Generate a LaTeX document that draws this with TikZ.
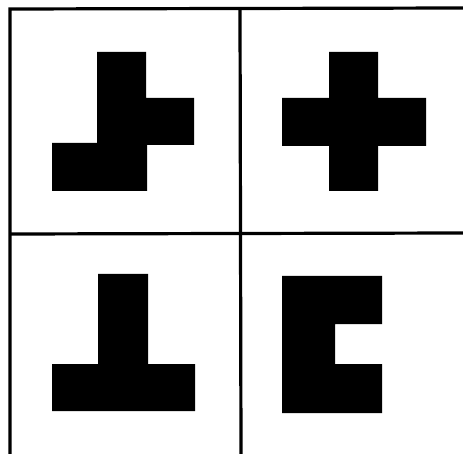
\documentclass[tikz,border=0pt]{standalone}
\begin{document}
\begin{tikzpicture}[x=1pt,y=-1pt,
  gridline/.style={line width=3.2pt,black},
  piece/.style={fill=black,draw=none}]
\useasboundingbox (0,0) rectangle (463,454);
% grid lines
\coordinate (tl) at (10,9);
\coordinate (tr) at (463,8);
\coordinate (bl) at (10,454);
\coordinate (mt) at (240,9);
\coordinate (mb) at (241,454);
\coordinate (ml) at (10,234);
\coordinate (mr) at (463,233);
\draw[gridline] (tr) -- (tl) -- (bl);
\draw[gridline] (mt) -- (mb);
\draw[gridline] (ml) -- (mr);
% piece 1
\fill[piece] (97,52) -- (146,52) -- (146,98) -- (194,98) -- (194,145) -- (147,145) -- (147,191) -- (52,191) -- (52,143) -- (97,143) -- cycle;
% piece 2: cross
\fill[piece] (329,52) -- (378,52) -- (378,98) -- (426,98) -- (426,146) -- (378,146) -- (378,191) -- (329,191) -- (329,146) -- (282,146) -- (282,98) -- (329,98) -- cycle;
% piece 3: T
\fill[piece] (98,274) -- (148,274) -- (148,364) -- (195,364) -- (195,411) -- (52,411) -- (52,364) -- (98,364) -- cycle;
% piece 4: C
\fill[piece] (282,276) -- (382,276) -- (382,324) -- (335,324) -- (335,364) -- (382,364) -- (382,413) -- (282,413) -- cycle;
\end{tikzpicture}
\end{document}
